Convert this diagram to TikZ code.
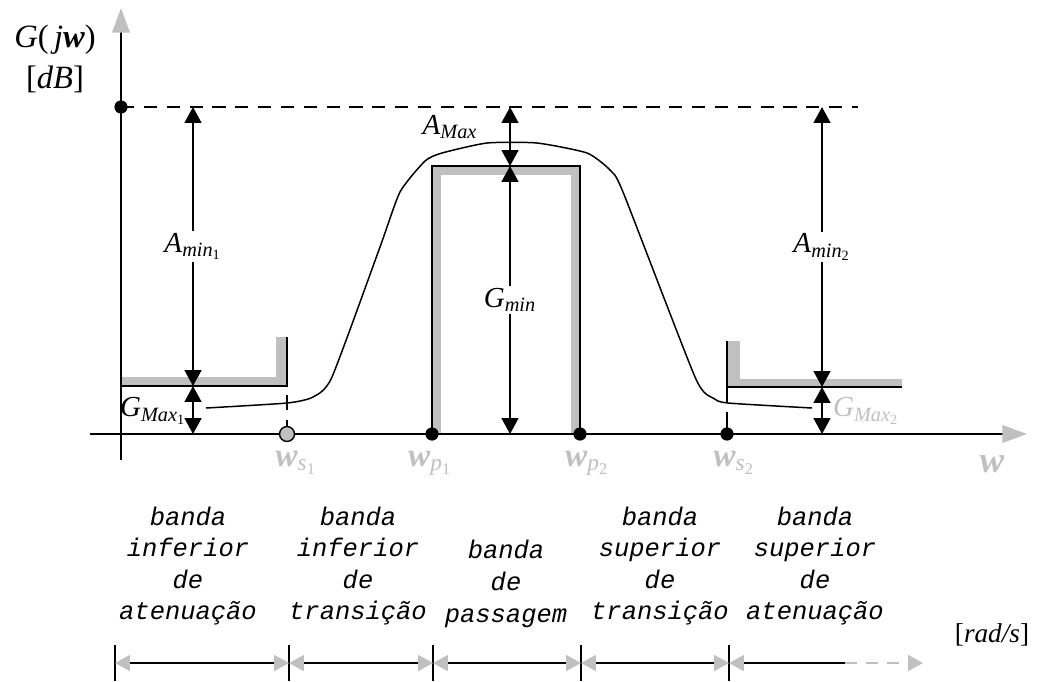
\documentclass[tikz,border=0pt]{standalone}
\usepackage{fontspec}
\setmainfont{Liberation Serif}
\newfontfamily\bandfont{Liberation Mono}
\usetikzlibrary{arrows.meta}
\definecolor{specgray}{RGB}{192,192,192}
\newcommand{\wlab}[2]{\textbf{\textit{w}}\textsubscript{\textit{#1}\textsubscript{#2}}}
\newcommand{\symlab}[3]{\textit{#1}\textsubscript{\textit{#2}\textsubscript{#3}}}
\tikzset{
  dimtip/.tip={Triangle[length=9pt,width=9.5pt]},
  greytip/.tip={Triangle[length=8.5pt,width=9pt,color=specgray]},
  axistip/.tip={Triangle[length=14pt,width=10pt,color=specgray]},
  dimline/.style={dimtip-dimtip},
  dimlabel/.style={fill=white,inner sep=1pt,font=\fontsize{16.5}{19}\selectfont},
  wlabel/.style={text=specgray,font=\fontsize{19}{22}\selectfont,anchor=base},
  bandtext/.style={align=center,font=\bandfont\itshape\fontsize{14.5}{18}\selectfont},
  freqdot/.style={circle,fill=black,inner sep=0pt,minimum size=7.5pt},
}
\begin{document}
\begin{tikzpicture}[x=0.02cm,y=-0.02cm,line width=1.1pt]
  \useasboundingbox (0,0) rectangle (1041,681);
  % gabarito (faixas cinzentas)
  \fill[specgray] (121,377) rectangle (287,386);
  \fill[specgray] (276,337) rectangle (287,386);
  \fill[specgray] (432,166) rectangle (441,434);
  \fill[specgray] (432,166) rectangle (580,175);
  \fill[specgray] (571,166) rectangle (580,434);
  \fill[specgray] (727,341) rectangle (740,387);
  \fill[specgray] (727,379) rectangle (902,387);
  \draw (121,386) -- (287,386) -- (287,337);
  \draw (432,434) -- (432,166) -- (580,166) -- (580,434);
  \draw (727,341) -- (727,387) -- (902,387);
  \draw (287,395) -- (287,410);
  \draw (287,420) -- (287,434);
  \draw (727,387) -- (727,403);
  \draw (727,412) -- (727,434);
  % eixos
  \coordinate (yfoot) at (121,460);
  \coordinate (ytip) at (121,8);
  \coordinate (xfoot) at (90,434);
  \coordinate (xtip) at (1027,434);
  \draw[-axistip] (yfoot) -- (ytip);
  \draw[-axistip] (xfoot) -- (xtip);
  \draw[dash pattern=on 7.5pt off 5.5pt] (121,107) -- (858,107);
  % resposta
  \draw[line width=0.85pt] plot[smooth,tension=0.35] coordinates {(206,408) (287,403) (313,397) (332,377) (380,247) (400,192) (425,161) (442,153) (487,143) (537,143) (587,153) (610,170) (623,192) (695,377) (713,398) (728,403) (812,408)};
  % pontos
  \node[freqdot] (g0) at (121,107) {};
  \node[freqdot,fill=specgray,draw=black,line width=0.8pt,minimum size=8.5pt] (ws1) at (287,434) {};
  \node[freqdot] (wp1) at (432,434) {};
  \node[freqdot] (wp2) at (580,434) {};
  \node[freqdot] (ws2) at (727,434) {};
  % cotas
  \coordinate (am1top) at (193,107);
  \coordinate (am1low) at (193,386);
  \coordinate (am1base) at (193,434);
  \draw[dimline] (am1top) -- node[dimlabel] (amin1) {\symlab{A}{min}{1}} (am1low);
  \draw[dimline] (am1low) -- (am1base);
  \node[dimlabel,fill=none] (gmax1) at (153,411) {\symlab{G}{Max}{1}};
  \coordinate (amtop) at (510,107);
  \coordinate (ambox) at (510,166);
  \coordinate (ambase) at (510,434);
  \draw[dimline] (amtop) -- (ambox);
  \draw[dimline] (ambox) -- node[dimlabel] (gmin) {\textit{G}\textsubscript{\textit{min}}} (ambase);
  \node[dimlabel,fill=none] (amax) at (450,127) {\textit{A}\textsubscript{\textit{Max}}};
  \coordinate (am2top) at (822,107);
  \coordinate (am2low) at (822,387);
  \coordinate (am2base) at (822,434);
  \draw[dimline] (am2top) -- node[dimlabel] (amin2) {\symlab{A}{min}{2}} (am2low);
  \draw[dimline] (am2low) -- (am2base);
  \node[dimlabel,fill=none,text=specgray] (gmax2) at (866,411) {\symlab{G}{Max}{2}};
  % rotulos dos eixos
  \node[font=\fontsize{18.5}{22}\selectfont] (glab) at (55,40) {\textit{G}(\,\textit{j}\textbf{\textit{w}})};
  \node[font=\fontsize{18.5}{22}\selectfont] (dblab) at (55,79) {[\textit{dB}]};
  \node[wlabel,font=\fontsize{21}{24}\selectfont] (wlab) at (992,472) {\textbf{\textit{w}}};
  \node[font=\fontsize{15.5}{18}\selectfont] (radlab) at (992,635) {[\textit{rad/s}]};
  \node[wlabel] (ws1lab) at (296,466) {\wlab{s}{1}};
  \node[wlabel] (wp1lab) at (430,466) {\wlab{p}{1}};
  \node[wlabel] (wp2lab) at (587,466) {\wlab{p}{2}};
  \node[wlabel] (ws2lab) at (734,466) {\wlab{s}{2}};
  % bandas
  \node[bandtext] (band1) at (188,566) {banda\\inferior\\de\\atenuação};
  \node[bandtext] (band2) at (358,566) {banda\\inferior\\de\\transição};
  \node[bandtext] (band3) at (506,584) {banda\\de\\passagem};
  \node[bandtext] (band4) at (660,566) {banda\\superior\\de\\transição};
  \node[bandtext] (band5) at (815,566) {banda\\superior\\de\\atenuação};
  \foreach \x in {115,289,433,581,729}
    \draw (\x,645) -- (\x,681);
  \coordinate (t1) at (115,663);
  \coordinate (t2) at (289,663);
  \coordinate (t3) at (433,663);
  \coordinate (t4) at (581,663);
  \coordinate (t5) at (729,663);
  \coordinate (tmid) at (845,663);
  \coordinate (tend) at (923,663);
  \draw[greytip-greytip] (t1) -- (t2);
  \draw[greytip-greytip] (t2) -- (t3);
  \draw[greytip-greytip] (t3) -- (t4);
  \draw[greytip-greytip] (t4) -- (t5);
  \draw[greytip-] (t5) -- (tmid);
  \draw[specgray,dash pattern=on 7pt off 5pt,-greytip] (tmid) -- (tend);
\end{tikzpicture}
\end{document}
